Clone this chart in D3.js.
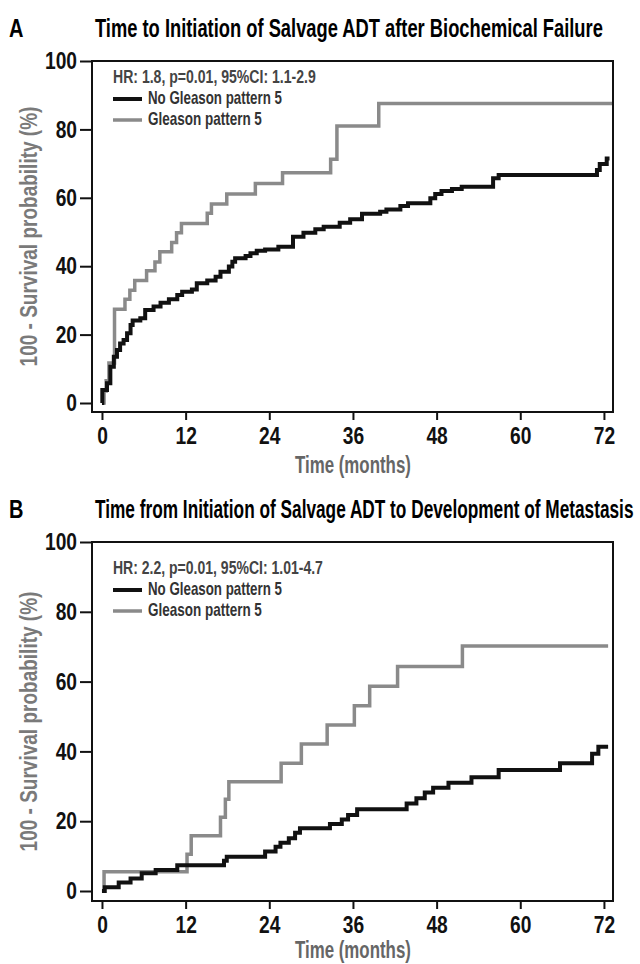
<!DOCTYPE html>
<meta charset="utf-8">
<style>
body { margin: 0; background: #fff; }
svg { display: block; }
text { font-family: "Liberation Sans", Arial, sans-serif; font-weight: bold; }
</style>
<body>
<script src="https://d3js.org/d3.v7.min.js"></script>
<script>

var width = 640,
    height = 964;

// x ticks (months) and y ticks (%)
var monthTicks = [0, 12, 24, 36, 48, 60, 72],
    pctTicks = [0, 20, 40, 60, 80, 100];

// panel A: time to initiation of salvage ADT, [month, 100 - survival %]
var noG5A = [[0,0],[0.05,3.8],[0.72,5.8],[1.2,10.6],[1.7,13.5],[2.15,15.5],[2.6,17.4],[3.1,18.4],[3.6,20.4],
  [4.1,22.8],[4.4,24.1],[5.5,24.8],[6.2,27.2],[7.4,28.2],[8.4,29.3],[9.6,30.3],[10.8,31.6],[11.5,32.5],
  [12.9,33.2],[13.6,35],[15.1,35.8],[16.3,36.9],[17.0,38.4],[18.2,39.9],[18.7,41.3],[19.1,42.3],[20.6,43],
  [21.3,43.8],[22.2,44.5],[23.4,44.9],[25.3,45.7],[27.4,48.6],[28.9,49.8],[30.6,50.8],[31.8,51.5],[34.1,52.7],
  [35.6,53.7],[37.3,55.3],[39.9,55.9],[40.8,56.6],[42.8,57.6],[43.9,58.4],[47.1,59.9],[47.8,61.1],[48.7,62.0],
  [50.2,62.6],[51.6,63.2],[56.1,65.7],[56.9,66.7],[71.0,68.1],[71.4,69.9],[72.4,71.5],[72.8,71.5]];
var g5A = [[0,0],[0.3,3.5],[0.6,6.5],[1.0,11.7],[1.8,27.4],[3.3,30.3],[4.0,33.0],[4.7,35.8],[6.4,38.7],
  [7.6,41.2],[8.3,44.2],[10.0,46.9],[10.7,49.8],[11.4,52.5],[15.1,55.5],[15.7,58.2],[17.9,61.1],[22.0,64.2],
  [25.9,67.3],[32.8,71.3],[33.7,81.0],[39.7,87.6],[73.3,87.6]];

// panel B: time from salvage ADT to metastasis
var noG5B = [[0,0],[0.4,1.1],[2.4,2.4],[4.1,3.6],[5.7,5.1],[7.7,6.0],[10.8,7.4],[17.5,8.7],[17.9,9.8],
  [23.4,11.3],[24.9,12.7],[25.6,13.8],[26.8,15.1],[27.7,16.7],[28.4,18.0],[32.7,19.2],[34.4,20.5],[35.3,21.8],
  [36.6,23.4],[43.7,25.1],[45.1,26.6],[46.3,28.2],[47.5,29.6],[49.7,31.0],[53.0,32.6],[56.9,34.7],[65.7,36.6],
  [70.3,39.3],[71.2,41.3],[72.6,41.3]];
var g5B = [[0,0],[0.3,5.5],[12.2,10.5],[12.8,15.8],[17.0,21.1],[17.7,26.3],[18.2,31.3],[25.7,36.6],[28.6,42.1],
  [32.3,47.6],[36.2,53.1],[38.4,58.7],[42.4,64.3],[51.7,70.2],[72.6,70.2]];

var seriesNames = ["No Gleason pattern 5", "Gleason pattern 5"],
    seriesColors = ["#111", "#8a8a8a"],
    seriesWidths = [4, 3.5];

var panels = [
  {letter: "A", title: "Time to Initiation of Salvage ADT after Biochemical Failure", titleEnd: 603,
   stat: "HR: 1.8, p=0.01, 95%CI: 1.1-2.9", statLen: 203, series: [noG5A, g5A],
   top: 61, bottom: 412, zeroY: 403, legendY: 22, xTitleY: 61},
  {letter: "B", title: "Time from Initiation of Salvage ADT to Development of Metastasis", titleEnd: 634,
   stat: "HR: 2.2, p=0.01, 95%CI: 1.01-4.7", statLen: 210, series: [noG5B, g5B],
   top: 542, bottom: 901, zeroY: 891, legendY: 32, xTitleY: 57}
];

var svg = d3.select("body").append("svg")
    .attr("width", width)
    .attr("height", height);

// squeeze a text horizontally to a target width (condensed look)
function fit(t, target) {
  var len = t.node().getComputedTextLength();
  return target / len;
}

var left = 92, right = 613, sx = 0.8;
var x = d3.scaleLinear().domain([-1.43, 73.3]).range([left, right]);

panels.forEach(function(p) {
  var y0 = p.zeroY, unit = (y0 - p.top) / 100;
  var y = d3.scaleLinear()
      .domain([-(p.bottom - y0) / unit, 100])
      .range([p.bottom, p.top]);

  var g = svg.append("g");

  g.append("text")
      .attr("transform", "translate(9," + (p.top - 24) + ") scale(0.8,1)")
      .attr("font-size", 25)
      .text(p.letter);

  var tt = g.append("text")
      .attr("font-size", 26)
      .text(p.title);
  tt.attr("transform", "translate(95," + (p.top - 24) + ") scale(" + fit(tt, p.titleEnd - 95) + ",1)");

  // axes
  var ya = g.append("g")
      .attr("transform", "translate(" + left + ",0)")
      .call(d3.axisLeft(y).tickValues(pctTicks).tickSize(12).tickPadding(3));
  var xa = g.append("g")
      .attr("transform", "translate(0," + p.bottom + ")")
      .call(d3.axisBottom(x).tickValues(monthTicks).tickSize(8).tickPadding(7));
  [ya, xa].forEach(function(a) {
    a.attr("font-family", null).attr("font-size", null);
    a.select(".domain").remove();
    a.selectAll(".tick line").attr("stroke", "#111").attr("stroke-width", 2);
    a.selectAll(".tick text").attr("font-size", 24).attr("fill", "#111");
  });
  ya.selectAll(".tick text")
      .attr("x", -15 / sx)
      .attr("transform", "scale(" + sx + ",1)");
  xa.selectAll(".tick text")
      .attr("transform", "scale(" + sx + ",1)");

  var xt = g.append("text")
      .attr("text-anchor", "middle")
      .attr("font-size", 24)
      .attr("fill", "#666")
      .text("Time (months)");
  xt.attr("transform", "translate(" + ((x(0) + x(72)) / 2) + "," + (p.bottom + p.xTitleY) + ") scale(" + fit(xt, 116) + ",1)");

  var yt = g.append("text")
      .attr("text-anchor", "middle")
      .attr("font-size", 24)
      .attr("fill", "#7a7a7a")
      .text("100 - Survival probability (%)");
  yt.attr("transform", "translate(37," + ((p.top + p.bottom) / 2) + ") rotate(-90) scale(" + fit(yt, 260) + ",1)");

  // curves
  var line = d3.line()
      .x(function(d) { return x(d[0]); })
      .y(function(d) { return y(d[1]); })
      .curve(d3.curveStepAfter);

  p.series.slice().reverse().forEach(function(s, j) {
    var i = p.series.length - 1 - j;
    g.append("path")
        .datum(s)
        .attr("fill", "none")
        .attr("stroke", seriesColors[i])
        .attr("stroke-width", seriesWidths[i])
        .attr("d", line);
  });

  // frame
  g.append("rect")
      .attr("x", left).attr("y", p.top)
      .attr("width", right - left).attr("height", p.bottom - p.top)
      .attr("fill", "none")
      .attr("stroke", "#111")
      .attr("stroke-width", 2);

  // legend
  var ly = p.top + p.legendY;
  var st = g.append("text")
      .attr("font-size", 18)
      .attr("fill", "#444")
      .text(p.stat);
  st.attr("transform", "translate(113," + ly + ") scale(" + fit(st, p.statLen) + ",1)");

  var lens = [134, 114];
  seriesNames.forEach(function(name, i) {
    var ry = ly + 16 + i * 21;
    g.append("line")
        .attr("x1", 113).attr("x2", 142)
        .attr("y1", ry).attr("y2", ry)
        .attr("stroke", seriesColors[i])
        .attr("stroke-width", seriesWidths[i]);
    var lt = g.append("text")
        .attr("font-size", 18)
        .attr("fill", "#333")
        .text(name);
    lt.attr("transform", "translate(148," + (ry + 5) + ") scale(" + fit(lt, lens[i]) + ",1)");
  });
});

</script>
